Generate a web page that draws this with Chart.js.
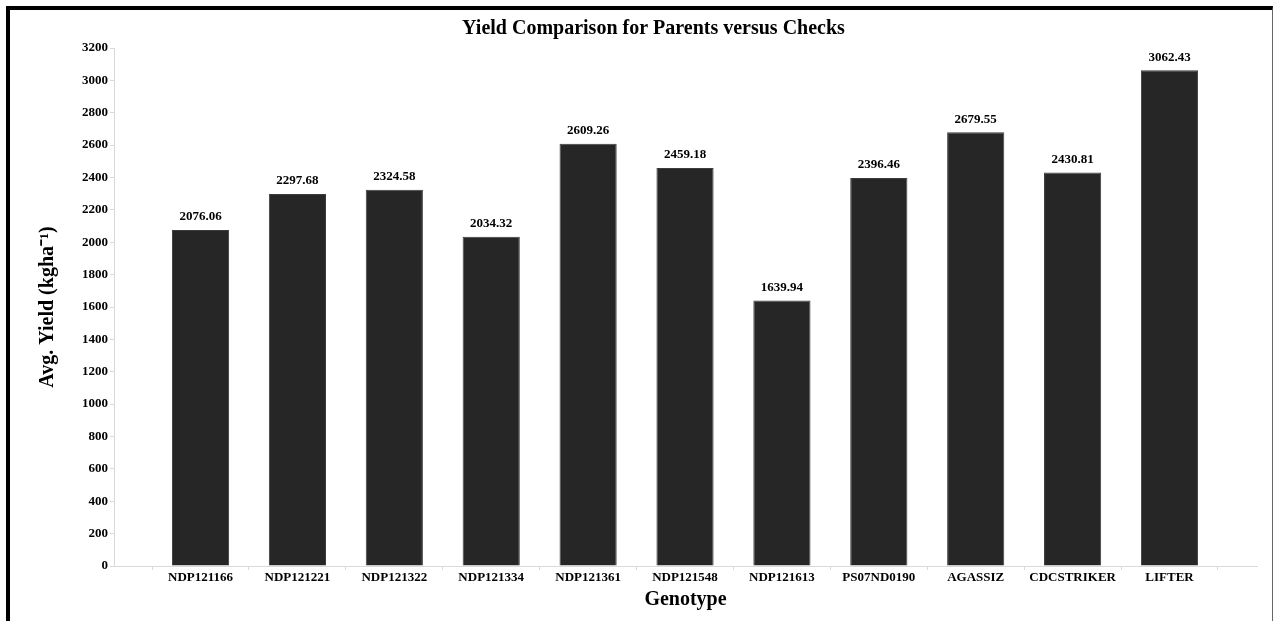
<!DOCTYPE html>
<html lang="en">
<head>
    <meta charset="UTF-8">
    <title>Yield Comparison for Parents versus Checks</title>
    <script src="https://cdn.jsdelivr.net/npm/chart.js"></script>
    <style>
        * {
            box-sizing: content-box;
            margin: 0;
            padding: 0;
        }

        body {
            background: #fff;
            width: 1273px;
            height: 621px;
            overflow: hidden;
            position: relative;
        }

        .frame {
            position: absolute;
            left: 6px;
            top: 6px;
            width: 1262px;
            height: 611px;
            border-top: 4px solid #000;
            border-left: 4px solid #000;
            border-right: 1px solid #666;
        }

        .frame canvas {
            display: block;
        }
    </style>
</head>
<body>

    <div class="frame">
        <canvas id="grafico" width="1262" height="611"></canvas>
    </div>

    <script>
        const genotypes = ["NDP121166", "NDP121221", "NDP121322", "NDP121334", "NDP121361",
            "NDP121548", "NDP121613", "PS07ND0190", "AGASSIZ", "CDCSTRIKER", "LIFTER"];
        const avgYield = [2076.06, 2297.68, 2324.58, 2034.32, 2609.26,
            2459.18, 1639.94, 2396.46, 2679.55, 2430.81, 3062.43];
        const yTicks = [0, 200, 400, 600, 800, 1000, 1200, 1400, 1600, 1800,
            2000, 2200, 2400, 2600, 2800, 3000, 3200];

        const serif = "'Liberation Serif', 'Times New Roman', serif";
        const axisGray = '#d9d9d9';

        // writes the value over every bar
        const barValues = {
            id: 'barValues',
            afterDatasetsDraw(chart) {
                const ctx = chart.ctx;
                const meta = chart.getDatasetMeta(0);
                ctx.save();
                ctx.font = 'bold 13px ' + serif;
                ctx.fillStyle = '#000';
                ctx.textAlign = 'center';
                ctx.textBaseline = 'middle';
                meta.data.forEach((bar, i) => {
                    ctx.fillText(avgYield[i].toFixed(2), bar.x, bar.y - 13);
                });
                ctx.restore();
            }
        };

        Chart.defaults.color = '#000';
        Chart.defaults.font.family = serif;

        const ctx = document.getElementById('grafico').getContext('2d');

        const grafico = new Chart(ctx, {
            type: 'bar',
            data: {
                datasets: [{
                    label: 'Avg. Yield',
                    data: avgYield.map((v, i) => ({ x: i, y: v })),
                    backgroundColor: '#262626',
                    borderColor: '#3c3c3c',
                    borderWidth: 1,
                    categoryPercentage: 1,
                    barPercentage: 0.59
                }]
            },
            options: {
                responsive: false,
                animation: false,
                layout: {
                    padding: { left: 40, right: 15, top: 0, bottom: 0 }
                },
                plugins: {
                    legend: { display: false },
                    tooltip: { enabled: false },
                    title: {
                        display: true,
                        text: 'Yield Comparison for Parents versus Checks',
                        color: '#000',
                        font: { size: 20, weight: 'bold', family: serif },
                        padding: { top: 7, bottom: 7 }
                    }
                },
                scales: {
                    x: {
                        type: 'linear',
                        offset: false,
                        min: -0.893,
                        max: 10.903,
                        afterBuildTicks: (axis) => {
                            axis.ticks = genotypes.map((g, i) => ({ value: i }));
                        },
                        afterFit: (axis) => { axis.height = 55; },
                        grid: {
                            offset: true,
                            drawOnChartArea: false,
                            drawTicks: true,
                            tickLength: 4,
                            color: axisGray
                        },
                        border: { display: true, color: axisGray },
                        ticks: {
                            autoSkip: false,
                            maxRotation: 0,
                            padding: 0,
                            font: { size: 13, weight: 'bold' },
                            callback: (v) => genotypes[v]
                        },
                        title: {
                            display: true,
                            text: 'Genotype',
                            font: { size: 20, weight: 'bold' },
                            padding: { top: 0, bottom: 9 }
                        }
                    },
                    y: {
                        min: 0,
                        max: 3200,
                        afterBuildTicks: (axis) => {
                            axis.ticks = yTicks.map(v => ({ value: v }));
                        },
                        afterFit: (axis) => { axis.width = 64; },
                        grid: {
                            drawOnChartArea: false,
                            drawTicks: true,
                            tickLength: 4,
                            color: axisGray
                        },
                        border: { display: true, color: axisGray },
                        ticks: {
                            padding: 2,
                            font: { size: 13, weight: 'bold' },
                            callback: (v) => String(v)
                        },
                        title: {
                            display: true,
                            text: 'Avg. Yield (kgha⁻¹)',
                            font: { size: 20, weight: 'bold' },
                            padding: { top: -14, bottom: 0 }
                        }
                    }
                }
            },
            plugins: [barValues]
        });
    </script>

</body>
</html>
